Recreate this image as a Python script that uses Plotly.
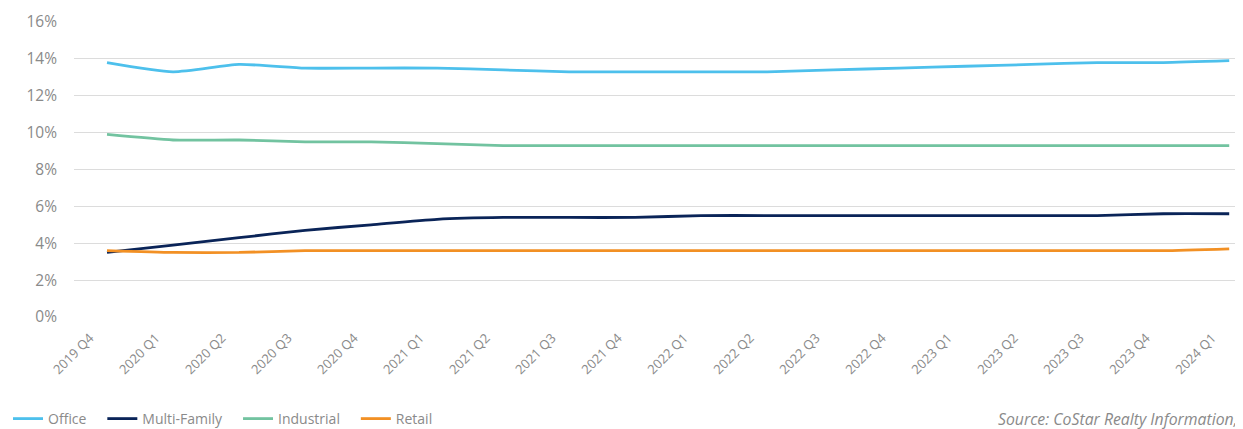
import plotly.graph_objects as go

quarters = ["2019 Q4", "2020 Q1", "2020 Q2", "2020 Q3", "2020 Q4", "2021 Q1", "2021 Q2",
            "2021 Q3", "2021 Q4", "2022 Q1", "2022 Q2", "2022 Q3", "2022 Q4", "2023 Q1",
            "2023 Q2", "2023 Q3", "2023 Q4", "2024 Q1"]
office = [13.8, 13.3, 13.7, 13.5, 13.5, 13.5, 13.4, 13.3, 13.3, 13.3, 13.3, 13.4, 13.5,
          13.6, 13.7, 13.8, 13.8, 13.9]
multi_family = [3.5, 3.9, 4.3, 4.7, 5.0, 5.3, 5.4, 5.4, 5.4, 5.5, 5.5, 5.5, 5.5, 5.5,
                5.5, 5.5, 5.6, 5.6]
industrial = [9.9, 9.6, 9.6, 9.5, 9.5, 9.4, 9.3, 9.3, 9.3, 9.3, 9.3, 9.3, 9.3, 9.3,
              9.3, 9.3, 9.3, 9.3]
retail = [3.6, 3.5, 3.5, 3.6, 3.6, 3.6, 3.6, 3.6, 3.6, 3.6, 3.6, 3.6, 3.6, 3.6,
          3.6, 3.6, 3.6, 3.7]
y_ticks = [0, 2, 4, 6, 8, 10, 12, 14, 16]
y_tick_labels = ["0%", "2%", "4%", "6%", "8%", "10%", "12%", "14%", "16%"]

series = [
    ("Office", office, "#4DC0EC"),
    ("Multi-Family", multi_family, "#0A2458"),
    ("Industrial", industrial, "#72C3A0"),
    ("Retail", retail, "#F29024"),
]

pad = "\u00a0" * 3
fig = go.Figure()
for name, vals, color in series:
    fig.add_trace(go.Scatter(
        x=quarters, y=vals, name=name + pad, mode="lines",
        line=dict(color=color, width=2.8, shape="spline", smoothing=0.6),
    ))

W, H = 1243, 429
ML, MT, MB = 66, 14, 120
font_family = "Open Sans, Noto Sans, sans-serif"
fig.update_layout(
    width=W, height=H,
    margin=dict(l=ML, r=0, t=MT, b=MB, autoexpand=False),
    plot_bgcolor="white", paper_bgcolor="white",
    font=dict(family=font_family, color="#8a8a8a", size=13),
    showlegend=True,
    legend=dict(
        orientation="h", xref="container", yref="container",
        x=0.0, y=(H - 411) / H, xanchor="left", yanchor="middle",
        font=dict(size=14, color="#8a8a8a"),
        itemwidth=30, tracegroupgap=0,
    ),
    xaxis=dict(
        type="category", range=[-0.5, 17.33], automargin=False,
        tickangle=-45, showgrid=False, showline=False, ticks="",
        tickfont=dict(size=13, color="#8a8a8a"),
        ticklabelshift=-17, ticklabelstandoff=10,
    ),
    yaxis=dict(
        range=[0, 16], tickvals=y_ticks, ticktext=y_tick_labels, automargin=False,
        showgrid=True, gridcolor="#dcdcdc", gridwidth=1,
        zeroline=False, showline=False, ticks="",
        tickfont=dict(size=15.5, color="#8a8a8a"),
        ticklabelstandoff=16,
    ),
    annotations=[dict(
        text="<i>Source: CoStar Realty Information, Inc.</i>",
        xref="paper", yref="paper", x=(988 - ML) / (W - ML), y=0, yshift=-102,
        xanchor="left", yanchor="middle", showarrow=False,
        font=dict(size=15.8, color="#8a8a8a"),
    )],
)

fig.write_html("out.html")
